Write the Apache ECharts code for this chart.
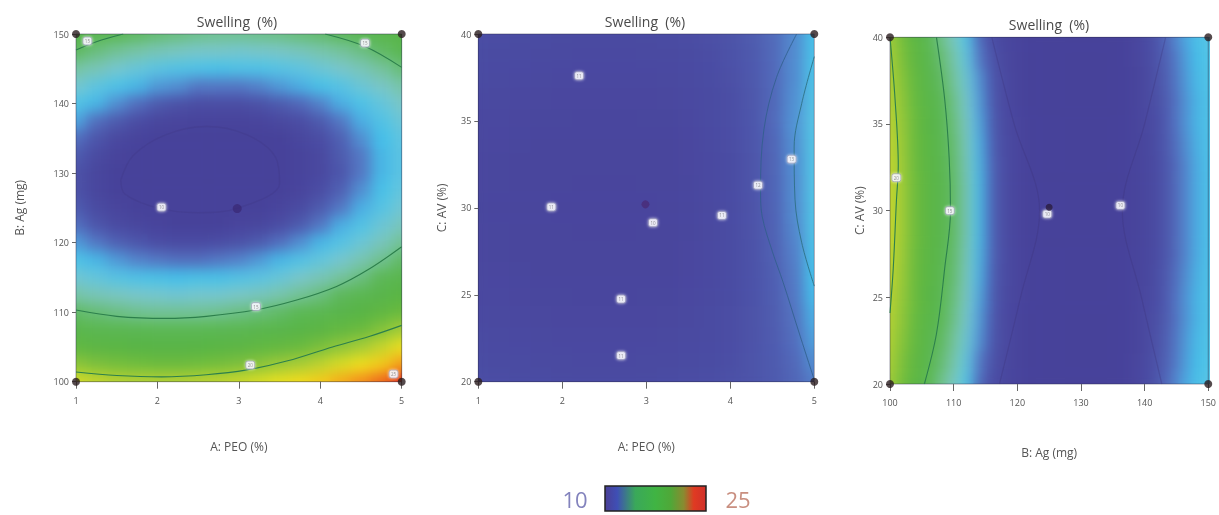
<!DOCTYPE html>
<html><head><meta charset="utf-8">
<script src="https://cdn.jsdelivr.net/npm/echarts@6/dist/echarts.min.js"></script>
<style>
html,body{margin:0;padding:0;background:#fff;}
#wrap{position:relative;width:1219px;height:515px;overflow:hidden;background:#fff;}
.clip{position:absolute;overflow:hidden;z-index:0;}
#fg{position:absolute;left:0;top:0;width:1219px;height:515px;z-index:2;}
</style></head><body><div id="wrap"><div id="fg"></div></div>
<script>
// ---------- tick labels ----------
const xTicks1 = [1, 2, 3, 4, 5];
const yTicks1 = [100, 110, 120, 130, 140, 150];
const xTicks2 = [1, 2, 3, 4, 5];
const yTicks2 = [20, 25, 30, 35, 40];
const xTicks3 = [100, 110, 120, 130, 140, 150];
const yTicks3 = [20, 25, 30, 35, 40];

// ---------- panel 1 grid: A: PEO (%) x B: Ag (mg) ----------
const p1X = [1, 1.25, 1.5, 1.75, 2, 2.25, 2.5, 2.75, 3, 3.25, 3.5, 3.75, 4, 4.25, 4.5, 4.75, 5];
const p1Y = [100, 102.5, 105, 107.5, 110, 112.5, 115, 117.5, 120, 122.5, 125, 127.5, 130, 132.5, 135, 137.5, 140, 142.5, 145, 147.5, 150];
const p1Z = [
  [20.9,20.6,20.4,20.3,20.3,20.3,20.4,20.5,20.7,21.0,21.4,21.8,22.3,22.9,23.5,24.2,25.0],
  [19.2,18.9,18.7,18.6,18.5,18.5,18.6,18.7,18.9,19.2,19.6,20.0,20.5,21.0,21.6,22.3,23.1],
  [17.6,17.3,17.1,17.0,16.9,16.9,17.0,17.1,17.3,17.6,17.9,18.3,18.8,19.3,19.9,20.6,21.4],
  [16.2,15.9,15.7,15.6,15.5,15.5,15.5,15.6,15.8,16.1,16.4,16.8,17.2,17.8,18.4,19.0,19.8],
  [15.0,14.7,14.5,14.3,14.2,14.2,14.2,14.3,14.5,14.7,15.0,15.4,15.9,16.4,17.0,17.6,18.3],
  [13.9,13.6,13.4,13.2,13.1,13.0,13.1,13.1,13.3,13.5,13.8,14.2,14.6,15.2,15.7,16.4,17.1],
  [13.0,12.7,12.4,12.2,12.1,12.0,12.1,12.1,12.3,12.5,12.8,13.2,13.6,14.1,14.6,15.3,16.0],
  [12.2,11.9,11.6,11.4,11.3,11.2,11.2,11.3,11.4,11.6,11.9,12.3,12.7,13.1,13.7,14.3,15.0],
  [11.6,11.3,11.0,10.8,10.6,10.5,10.5,10.6,10.7,10.9,11.2,11.5,11.9,12.4,12.9,13.5,14.2],
  [11.2,10.8,10.5,10.3,10.1,10.0,10.0,10.0,10.2,10.3,10.6,10.9,11.3,11.8,12.3,12.9,13.5],
  [10.9,10.5,10.2,10.0,10.0,10.0,10.0,10.0,10.0,10.0,10.2,10.5,10.9,11.3,11.8,12.4,13.0],
  [10.7,10.3,10.0,10.0,10.0,10.0,10.0,10.0,10.0,10.0,10.0,10.2,10.6,11.0,11.5,12.1,12.7],
  [10.7,10.3,10.0,10.0,10.0,10.0,10.0,10.0,10.0,10.0,10.0,10.1,10.4,10.8,11.3,11.9,12.5],
  [10.9,10.5,10.1,10.0,10.0,10.0,10.0,10.0,10.0,10.0,10.0,10.1,10.4,10.9,11.3,11.9,12.5],
  [11.2,10.8,10.4,10.1,10.0,10.0,10.0,10.0,10.0,10.0,10.0,10.3,10.6,11.0,11.5,12.0,12.6],
  [11.7,11.2,10.9,10.6,10.3,10.2,10.1,10.1,10.1,10.2,10.4,10.6,10.9,11.3,11.8,12.3,12.9],
  [12.3,11.9,11.5,11.2,10.9,10.7,10.6,10.6,10.6,10.7,10.9,11.1,11.4,11.8,12.2,12.7,13.3],
  [13.1,12.6,12.2,11.9,11.6,11.5,11.3,11.3,11.3,11.4,11.6,11.8,12.1,12.4,12.9,13.3,13.9],
  [14.0,13.6,13.1,12.8,12.5,12.3,12.2,12.1,12.2,12.2,12.4,12.6,12.9,13.2,13.6,14.1,14.7],
  [15.1,14.6,14.2,13.9,13.6,13.4,13.2,13.2,13.1,13.2,13.3,13.5,13.8,14.1,14.5,15.0,15.6],
  [16.4,15.9,15.4,15.1,14.8,14.6,14.4,14.3,14.3,14.4,14.5,14.7,14.9,15.2,15.6,16.1,16.6]
];

// ---------- panel 2 grid: A: PEO (%) x C: AV (%) ----------
const p2X = [1, 1.25, 1.5, 1.75, 2, 2.25, 2.5, 2.75, 3, 3.25, 3.5, 3.75, 4, 4.25, 4.5, 4.75, 5];
const p2Y = [20, 21.25, 22.5, 23.75, 25, 26.25, 27.5, 28.75, 30, 31.25, 32.5, 33.75, 35, 36.25, 37.5, 38.75, 40];
const p2Z = [
  [10.61,10.58,10.55,10.53,10.51,10.5,10.5,10.5,10.51,10.53,10.57,10.62,10.68,10.76,10.89,11.05,11.35],
  [10.54,10.51,10.48,10.46,10.44,10.43,10.43,10.43,10.44,10.46,10.5,10.56,10.63,10.74,10.89,11.1,11.5],
  [10.48,10.45,10.42,10.4,10.38,10.37,10.37,10.37,10.38,10.4,10.45,10.52,10.6,10.73,10.91,11.17,11.67],
  [10.43,10.4,10.37,10.35,10.33,10.32,10.32,10.32,10.33,10.35,10.4,10.48,10.57,10.72,10.92,11.22,11.8],
  [10.39,10.36,10.33,10.31,10.29,10.28,10.28,10.28,10.29,10.31,10.36,10.45,10.55,10.71,10.94,11.28,11.94],
  [10.35,10.32,10.29,10.27,10.25,10.24,10.24,10.24,10.25,10.27,10.33,10.42,10.53,10.71,10.96,11.32,12.04],
  [10.33,10.3,10.27,10.25,10.23,10.22,10.22,10.22,10.23,10.25,10.32,10.41,10.53,10.71,10.98,11.37,12.15],
  [10.32,10.29,10.26,10.24,10.22,10.21,10.21,10.21,10.22,10.24,10.3,10.4,10.53,10.72,11.0,11.42,12.24],
  [10.31,10.28,10.25,10.23,10.21,10.2,10.2,10.2,10.21,10.23,10.3,10.4,10.53,10.73,11.02,11.45,12.31],
  [10.32,10.29,10.26,10.24,10.22,10.21,10.21,10.21,10.22,10.24,10.31,10.41,10.54,10.74,11.03,11.46,12.32],
  [10.33,10.3,10.27,10.25,10.23,10.22,10.22,10.22,10.23,10.25,10.32,10.42,10.55,10.75,11.04,11.47,12.33],
  [10.35,10.32,10.29,10.27,10.25,10.24,10.24,10.24,10.25,10.27,10.34,10.44,10.57,10.77,11.06,11.49,12.35],
  [10.39,10.36,10.33,10.31,10.29,10.28,10.28,10.28,10.29,10.31,10.38,10.48,10.61,10.81,11.1,11.53,12.39],
  [10.43,10.4,10.37,10.35,10.33,10.32,10.32,10.32,10.33,10.35,10.41,10.51,10.63,10.82,11.09,11.5,12.3],
  [10.48,10.45,10.42,10.4,10.38,10.37,10.37,10.37,10.38,10.4,10.46,10.55,10.67,10.84,11.1,11.47,12.21],
  [10.54,10.51,10.48,10.46,10.44,10.43,10.43,10.43,10.44,10.46,10.52,10.6,10.71,10.88,11.11,11.46,12.14],
  [10.61,10.58,10.55,10.53,10.51,10.5,10.5,10.5,10.51,10.53,10.59,10.66,10.76,10.92,11.13,11.45,12.07]
];

// ---------- panel 3 grid: B: Ag (mg) x C: AV (%) ----------
const p3X = [100,102,104,106,108,110,112,114,116,118,120,122,124,126,128,130,132,134,136,138,140,142,144,146,148,150];
const p3Y = [20, 21.25, 22.5, 23.75, 25, 26.25, 27.5, 28.75, 30, 31.25, 32.5, 33.75, 35, 36.25, 37.5, 38.75, 40];
const p3Z = [
  [19.8,18.6,17.2,15.7,14.4,13.4,12.3,11.1,10.6,10.3,10.1,10,10,10,10,10,10,10,10,10.2,10.5,10.85,11.3,11.7,12.1,12.5],
  [20.0,18.8,17.5,16.1,14.8,13.8,12.6,11.3,10.7,10.35,10.1,10,10,10,10,10,10,10,10,10.2,10.45,10.8,11.2,11.6,12.0,12.4],
  [20.2,19.0,17.8,16.4,15.1,14.1,12.9,11.5,10.8,10.4,10.1,10,10,10,10,10,10,10,10,10.15,10.4,10.75,11.15,11.55,11.95,12.35],
  [20.3,19.2,18.0,16.7,15.4,14.4,13.1,11.6,10.85,10.4,10.15,10,10,10,10,10,10,10,10,10.15,10.4,10.7,11.1,11.5,11.9,12.3],
  [20.4,19.35,18.2,16.9,15.7,14.6,13.3,11.7,10.9,10.45,10.2,10,10,10,10,10,10,10,10,10.1,10.35,10.65,11.1,11.5,11.9,12.3],
  [20.5,19.45,18.3,17.1,15.9,14.8,13.4,11.8,10.95,10.5,10.2,10,10,10,10,10,10,10,10,10.1,10.3,10.65,11.05,11.45,11.85,12.25],
  [20.55,19.55,18.4,17.2,16.0,14.9,13.5,11.85,11.0,10.5,10.2,10,10,10,10,10,10,10,10,10.1,10.3,10.6,11.0,11.4,11.8,12.2],
  [20.6,19.6,18.5,17.3,16.1,15.0,13.6,11.9,11.0,10.5,10.2,10,10,10,10,10,10,10,10,10.1,10.3,10.6,11.0,11.4,11.8,12.2],
  [20.6,19.6,18.5,17.3,16.1,15.0,13.6,11.9,11.0,10.5,10.2,10,10,10,10,10,10,10,10,10.1,10.3,10.6,11.0,11.4,11.8,12.2],
  [20.6,19.6,18.5,17.3,16.1,15.0,13.6,11.9,11.0,10.5,10.2,10,10,10,10,10,10,10,10,10.1,10.3,10.6,11.0,11.4,11.8,12.2],
  [20.55,19.55,18.4,17.2,16.0,14.9,13.5,11.85,11.0,10.5,10.2,10,10,10,10,10,10,10,10,10.1,10.3,10.6,11.0,11.4,11.8,12.2],
  [20.5,19.45,18.3,17.1,15.9,14.8,13.4,11.8,10.95,10.5,10.2,10,10,10,10,10,10,10,10,10.1,10.3,10.65,11.05,11.45,11.85,12.25],
  [20.4,19.35,18.2,16.9,15.7,14.6,13.3,11.7,10.9,10.45,10.2,10,10,10,10,10,10,10,10,10.1,10.35,10.65,11.1,11.5,11.9,12.3],
  [20.3,19.2,18.0,16.7,15.4,14.4,13.1,11.6,10.85,10.4,10.15,10,10,10,10,10,10,10,10,10.15,10.4,10.7,11.1,11.5,11.9,12.3],
  [20.2,19.0,17.8,16.4,15.1,14.1,12.9,11.5,10.8,10.4,10.1,10,10,10,10,10,10,10,10,10.15,10.4,10.75,11.15,11.55,11.95,12.35],
  [20.0,18.8,17.5,16.1,14.8,13.8,12.6,11.3,10.7,10.35,10.1,10,10,10,10,10,10,10,10,10.2,10.45,10.8,11.2,11.6,12.0,12.4],
  [19.8,18.6,17.2,15.7,14.4,13.4,12.3,11.1,10.6,10.3,10.1,10,10,10,10,10,10,10,10,10.2,10.5,10.85,11.3,11.7,12.1,12.5]
];

// ---------- contour lines ----------
const c1TopLeft = [[1,147.7],[1.25,148.9],[1.58,150]];
const c1TopRight = [[4.06,150],[4.55,148.2],[5,145.2]];
const c1Mid = [[1,110.3],[1.5,109.4],[2.1,109.1],[2.6,109.4],[3.2,110.3],[3.7,111.7],[4.2,113.7],[4.6,116.2],[5,119.4]];
const c1Low = [[1,101.4],[1.5,100.9],[2.05,100.7],[2.6,101.0],[3.1,101.7],[3.6,103.0],[4.15,105.0],[4.6,106.5],[5,108.1]];
const c1Ring = [[1.55,129],[1.7,132.5],[2.1,135.5],[2.6,136.7],[3.1,135.5],[3.45,132.3],[3.5,128.5],[3.0,125],[2.5,124.3],[2.0,125],[1.6,127],[1.55,129]];
const c2Outer = [[4.79,40],[4.55,37.5],[4.4,34.5],[4.36,31],[4.38,29.5],[4.5,27.5],[4.63,25.7],[4.82,22.8],[5,20.1]];
const c2Inner = [[5,38.7],[4.85,36],[4.76,33.5],[4.77,30.5],[4.85,28],[5,25.5]];
const c3Mid = [[107.3,40],[108.6,36.4],[109.3,33],[109.5,30],[108.6,26.7],[107.3,22.9],[105.4,20]];
const c3Left = [[100,40],[100.8,36.4],[101.3,32.6],[101,30.5],[100.5,26.6],[100,24.1]];
const c3FaintA = [[116,40],[119.5,35],[123.5,30],[120.5,25],[117.2,20]];
const c3FaintB = [[143.3,40],[140,35],[136.5,30],[139.5,25],[142.7,20]];

// ---------- label boxes, design points ----------
const boxes1 = [[1.14,149,'15'],[4.55,148.7,'15'],[2.05,125.1,'10'],[3.21,110.8,'15'],[3.14,102.4,'20'],[4.9,101.1,'25']];
const boxes2 = [[2.2,37.6,'11'],[1.87,30.05,'11'],[3.08,29.15,'10'],[3.9,29.56,'11'],[4.33,31.3,'12'],[4.73,32.8,'13'],[2.7,24.75,'11'],[2.7,21.5,'11']];
const boxes3 = [[101,31.9,'20'],[109.4,30,'15'],[124.7,29.8,'10'],[136.2,30.3,'10']];
const corners1 = [[1,100],[5,100],[1,150],[5,150]];
const corners2 = [[1,20],[5,20],[1,40],[5,40]];
const corners3 = [[100,20],[150,20],[100,40],[150,40]];
const centers1 = [[2.98,124.9]];
const centers2 = [[2.99,30.2]];
const centers3 = [[125,30.2]];

const titleText = 'Swelling  (%)';
const legendMin = 10, legendMax = 25;

// ---------- styles ----------
const FONT = "'Open Sans', 'DejaVu Sans', sans-serif";
const GRIDS = [
  {left:76, top:34, width:325.7, height:347.7},
  {left:478.3, top:34, width:336, height:347.7},
  {left:890, top:37.3, width:320, height:346.7}
];
const STOPS = [[10.0,'#47429a'],[10.3,'#49479e'],[10.6,'#4b4da4'],[10.9,'#4e5aae'],[11.3,'#5577c4'],[11.7,'#4fa6df'],[12.0,'#45c0ea'],[12.6,'#5fc4e0'],[13.2,'#7ac6cc'],[14.0,'#78c4a4'],[14.8,'#66bc72'],[15.3,'#5cb856'],[17.0,'#58b446'],[18.5,'#6cbb3e'],[19.5,'#96c83a'],[20.3,'#b4d034'],[21.0,'#d8dc26'],[21.6,'#f0e01e'],[22.4,'#f5c81a'],[23.2,'#f59a1c'],[24.2,'#ee6a1e'],[25.0,'#e0301c']];
function hex2rgb(h){return [parseInt(h.substr(1,2),16),parseInt(h.substr(3,2),16),parseInt(h.substr(5,2),16)];}
function buildPalette(n){
  const out=[];
  for(let k=0;k<n;k++){
    const v = legendMin + (legendMax-legendMin)*k/(n-1);
    let s=0; while(s<STOPS.length-2 && STOPS[s+1][0]<v) s++;
    const a=STOPS[s], b=STOPS[s+1];
    const t=Math.max(0,Math.min(1,(v-a[0])/(b[0]-a[0])));
    const ca=hex2rgb(a[1]), cb=hex2rgb(b[1]);
    out.push('rgb('+ca.map((c,i)=>Math.round(c+(cb[i]-c)*t)).join(',')+')');
  }
  return out;
}
const PALETTE = buildPalette(121);

const wrap = document.getElementById('wrap');
const fgDiv = document.getElementById('fg');

function makeHeat(idx, xs, ys, rows){
  const g = GRIDS[idx];
  const cw = g.width/(xs.length-1), ch = g.height/(ys.length-1);
  const clip = document.createElement('div');
  clip.className = 'clip';
  Object.assign(clip.style,{left:g.left+'px',top:g.top+'px',width:g.width+'px',height:g.height+'px'});
  wrap.insertBefore(clip, fgDiv);
  const data = [];
  rows.forEach((row,j)=>row.forEach((v,i)=>data.push([i,j,v])));
  [0,7].forEach(blur=>{
    const d = document.createElement('div');
    Object.assign(d.style,{position:'absolute',left:(-cw/2)+'px',top:(-ch/2)+'px',width:(g.width+cw)+'px',height:(g.height+ch)+'px'});
    if(blur) d.style.filter='blur('+blur+'px)';
    clip.appendChild(d);
    const c = echarts.init(d,null,{renderer:'canvas'});
    c.setOption({
      animation:false,
      grid:{left:0,right:0,top:0,bottom:0},
      xAxis:{type:'category',data:xs.map(String),show:false},
      yAxis:{type:'category',data:ys.map(String),show:false},
      visualMap:{show:false,type:'continuous',min:legendMin,max:legendMax,dimension:2,inRange:{color:PALETTE}},
      series:[{type:'heatmap',data:data,progressive:0,emphasis:{disabled:true},itemStyle:{borderWidth:0}}]
    });
  });
}
makeHeat(0,p1X,p1Y,p1Z);
makeHeat(1,p2X,p2Y,p2Z);
makeHeat(2,p3X,p3Y,p3Z);

// ---------- foreground: axes, contours, labels ----------
function axisX(i,ticks,name,gap){
  return {gridIndex:i,type:'value',min:ticks[0],max:ticks[ticks.length-1],interval:ticks[1]-ticks[0],
    axisLine:{show:false},axisTick:{show:true,length:7,lineStyle:{color:'#666',width:1}},
    axisLabel:{fontSize:9,color:'#555',margin:14,fontFamily:FONT},splitLine:{show:false},
    name:name,nameLocation:'middle',nameGap:gap,nameTextStyle:{fontSize:12,color:'#555',fontFamily:FONT}};
}
function axisY(i,ticks,name,gap){
  return {gridIndex:i,type:'value',min:ticks[0],max:ticks[ticks.length-1],interval:ticks[1]-ticks[0],
    axisLine:{show:false},axisTick:{show:true,length:4,lineStyle:{color:'#666',width:1}},
    axisLabel:{fontSize:9,color:'#555',margin:7,fontFamily:FONT},splitLine:{show:false},
    name:name,nameLocation:'middle',nameGap:gap,nameRotate:90,nameTextStyle:{fontSize:12,color:'#555',fontFamily:FONT}};
}
function lineS(i,pts,color,width,opacity){
  return {type:'line',xAxisIndex:i,yAxisIndex:i,data:pts,symbol:'none',smooth:0.35,silent:true,
    lineStyle:{color:color,width:width,opacity:opacity===undefined?1:opacity},z:3};
}
function boxS(i,pts){
  return {type:'scatter',xAxisIndex:i,yAxisIndex:i,data:pts,symbol:'roundRect',symbolSize:[9,8],clip:false,silent:true,
    itemStyle:{color:'#f5f5fb',borderColor:'rgba(120,120,160,0.8)',borderWidth:0.8,shadowBlur:3,shadowColor:'rgba(255,255,255,0.9)'},
    label:{show:true,position:'inside',fontSize:4.5,color:'#777',fontFamily:FONT,formatter:p=>p.value[2]},z:5};
}
function dotS(i,pts,color,size){
  return {type:'scatter',xAxisIndex:i,yAxisIndex:i,data:pts,symbol:'circle',symbolSize:size,clip:false,silent:true,
    itemStyle:{color:color},z:6};
}
const greenLine = '#2c7f4c';
const option = {
  animation:false,
  backgroundColor:'transparent',
  grid: GRIDS.map(g=>({left:g.left,top:g.top,width:g.width,height:g.height,show:true,borderColor:'rgba(40,40,70,0.45)',borderWidth:1,backgroundColor:'transparent'})),
  xAxis:[axisX(0,xTicks1,'A: PEO (%)',59),axisX(1,xTicks2,'A: PEO (%)',59),axisX(2,xTicks3,'B: Ag (mg)',62)],
  yAxis:[axisY(0,yTicks1,'B: Ag (mg)',51),axisY(1,yTicks2,'C: AV (%)',31),axisY(2,yTicks3,'C: AV (%)',25)],
  series:[
    lineS(0,c1TopLeft,greenLine,1.1), lineS(0,c1TopRight,greenLine,1.1), lineS(0,c1Mid,greenLine,1.1), lineS(0,c1Low,greenLine,1.1),
    lineS(0,c1Ring,'#3a3178',1.4,0.2),
    lineS(1,c2Outer,'#2f5f8a',1,0.8), lineS(1,c2Inner,'#2d6f80',1,0.85),
    lineS(2,c3Mid,greenLine,1.1), lineS(2,c3Left,greenLine,1.1),
    lineS(2,c3FaintA,'#3a3178',1.2,0.3), lineS(2,c3FaintB,'#3a3178',1.2,0.3),
    boxS(0,boxes1), boxS(1,boxes2), boxS(2,boxes3),
    dotS(0,corners1,'#2b1d1f',8), dotS(1,corners2,'#2b1d1f',8), dotS(2,corners3,'#2b1d1f',8),
    dotS(0,centers1,'#3b2b78',9), dotS(1,centers2,'#4a2a78',8), dotS(2,centers3,'#2b1d3f',7)
  ],
  graphic:[
    {type:'text',x:237,y:21,style:{text:titleText,fontSize:14,fill:'#4a4a4a',fontFamily:FONT,align:'center',verticalAlign:'middle'}},
    {type:'text',x:645,y:21,style:{text:titleText,fontSize:14,fill:'#4a4a4a',fontFamily:FONT,align:'center',verticalAlign:'middle'}},
    {type:'text',x:1049,y:24,style:{text:titleText,fontSize:14,fill:'#4a4a4a',fontFamily:FONT,align:'center',verticalAlign:'middle'}},
    {type:'rect',shape:{x:605,y:486,width:101,height:25},
      style:{fill:new echarts.graphic.LinearGradient(0,0,1,0,[
        {offset:0,color:'#4a3f96'},{offset:0.12,color:'#3f4fb5'},{offset:0.3,color:'#3aa85a'},{offset:0.5,color:'#40b443'},
        {offset:0.65,color:'#4fa838'},{offset:0.78,color:'#8a8a30'},{offset:0.88,color:'#e03a22'},{offset:1,color:'#d0302a'}]),
        stroke:'#222',lineWidth:1.5}},
    {type:'text',x:575,y:499,style:{text:String(legendMin),fontSize:22,fill:'#8383bd',fontFamily:FONT,align:'center',verticalAlign:'middle'}},
    {type:'text',x:738,y:499,style:{text:String(legendMax),fontSize:22,fill:'#c98f80',fontFamily:FONT,align:'center',verticalAlign:'middle'}}
  ]
};
const fg = echarts.init(fgDiv,null,{renderer:'svg'});
fg.setOption(option);
</script></body></html>
